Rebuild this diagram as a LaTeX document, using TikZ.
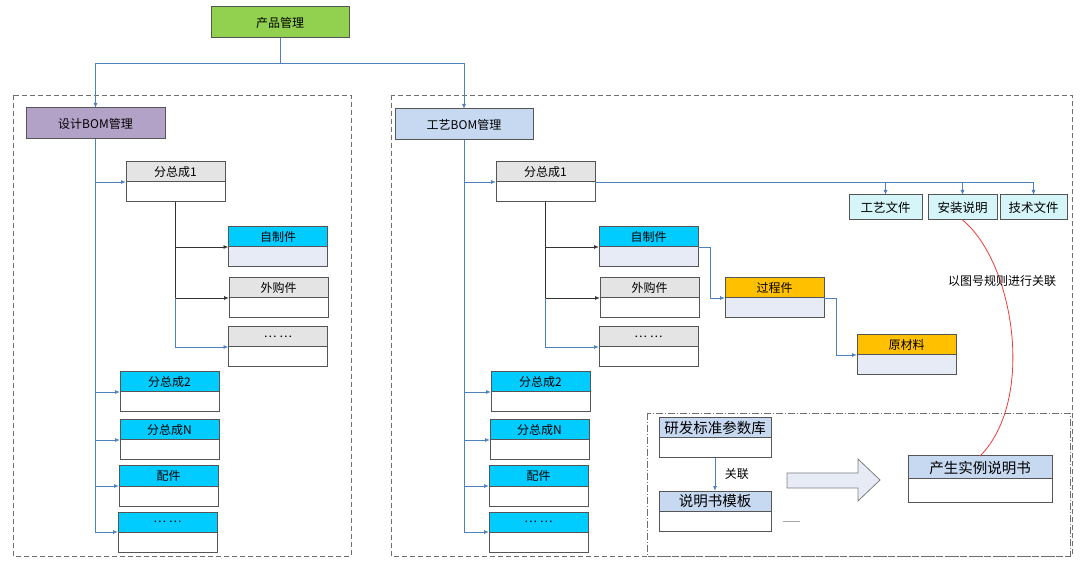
\documentclass[tikz,border=0pt]{standalone}
\usepackage{fontspec}
\setmainfont{Noto Sans CJK SC}
\usetikzlibrary{positioning,arrows.meta}
\definecolor{linkblue}{RGB}{79,129,189}
\definecolor{boxline}{RGB}{85,85,85}
\definecolor{prodgreen}{RGB}{146,208,80}
\definecolor{designpurple}{RGB}{179,162,199}
\definecolor{procblue}{RGB}{198,217,241}
\definecolor{partcyan}{RGB}{0,204,255}
\definecolor{partgray}{RGB}{228,228,228}
\definecolor{partorange}{RGB}{255,192,0}
\definecolor{bodylight}{RGB}{231,235,245}
\definecolor{doccyan}{RGB}{213,245,248}
\definecolor{framegray}{RGB}{110,110,110}
\definecolor{rulered}{RGB}{235,60,60}
\begin{document}
\begin{tikzpicture}[x=1pt,y=-1pt,
    font=\fontsize{12}{14}\selectfont,
    hdbox/.style={rectangle,draw=boxline,line width=1pt,outer sep=0pt,inner sep=0pt,
                  minimum width=99pt,minimum height=20pt},
    bdbox/.style={rectangle,draw=boxline,line width=1pt,outer sep=0pt,inner sep=0pt,
                  minimum width=99pt,minimum height=20pt,fill=white},
    mgrbox/.style={rectangle,draw=boxline,line width=1pt,outer sep=0pt,inner sep=0pt,
                   minimum height=31pt},
    docbox/.style={rectangle,draw=boxline,line width=1pt,outer sep=0pt,inner sep=0pt,
                   minimum height=25pt,fill=doccyan,font=\fontsize{12.5}{14}\selectfont},
    bigtext/.style={font=\fontsize{14.5}{16}\selectfont},
    blueline/.style={draw=linkblue,line width=0.9pt},
    darkline/.style={draw=black!80,line width=0.9pt},
    arrowtip/.style={-{Latex[length=5pt,width=4pt]}},
    groupframe/.style={draw=framegray,line width=0.9pt,dash pattern=on 5pt off 3pt}]

      \useasboundingbox (0,0) rectangle (1080,561);

      \draw[groupframe] (13,95) rectangle (351,556);
      \draw[groupframe] (391,95) rectangle (1072,556);
      \draw[groupframe,dash pattern=on 7pt off 2pt on 1pt off 2pt] (647,413) rectangle (1070,556);

      \node[mgrbox,fill=prodgreen,minimum width=138pt] (prod) at (280,22.5) {产品管理};
      \node[mgrbox,fill=designpurple,minimum width=139pt] (dbom) at (95.5,123.5) {设计BOM管理};
      \node[mgrbox,fill=procblue,minimum width=138pt] (pbom) at (464,124.5) {工艺BOM管理};

      \draw[blueline,arrowtip] (prod.south) -- ++(0,25) -| (dbom.north);
      \draw[blueline,arrowtip] (prod.south) -- ++(0,25) -| (pbom.north);

      \node[hdbox,fill=partgray] (dsub1) at (175.5,172) {分总成1};
      \node[bdbox] (dsub1b) [below=0pt of dsub1] {};
      \node[hdbox,fill=partcyan] (dself) at (278,237) {自制件};
      \node[bdbox,fill=bodylight] (dselfb) [below=0pt of dself] {};
      \node[hdbox,fill=partgray] (dbuy) at (278.5,288) {外购件};
      \node[bdbox] (dbuyb) [below=0pt of dbuy] {};
      \node[hdbox,fill=partgray] (dmore) at (278,337) {… …};
      \node[bdbox] (dmoreb) [below=0pt of dmore] {};
      \node[hdbox,fill=partcyan] (dsub2) at (169.5,382) {分总成2};
      \node[bdbox] (dsub2b) [below=0pt of dsub2] {};
      \node[hdbox,fill=partcyan] (dsubn) at (169.5,430) {分总成N};
      \node[bdbox] (dsubnb) [below=0pt of dsubn] {};
      \node[hdbox,fill=partcyan] (dpart) at (168.5,476) {配件};
      \node[bdbox] (dpartb) [below=0pt of dpart] {};
      \node[hdbox,fill=partcyan] (dend) at (167.5,522) {… …};
      \node[bdbox] (dendb) [below=0pt of dend] {};

      \draw[blueline,arrowtip] (dbom.south) |- (dsub1.south west);
      \draw[blueline,arrowtip] (dbom.south) |- (dsub2.south west);
      \draw[blueline,arrowtip] (dbom.south) |- (dsubn.south west);
      \draw[blueline,arrowtip] (dbom.south) |- (dpart.south west);
      \draw[blueline,arrowtip] (dbom.south) |- (dend.south west);
      \draw[darkline,arrowtip] (dsub1b.south) |- (dself.south west);
      \draw[darkline,arrowtip] (dsub1b.south) |- (dbuy.south west);
      \draw[blueline,arrowtip] (dbuy.south west -| dsub1b.south) |- (dmore.south west);

      \node[hdbox,fill=partgray] (psub1) at (545.5,172) {分总成1};
      \node[bdbox] (psub1b) [below=0pt of psub1] {};
      \node[hdbox,fill=partcyan] (pself) at (648.5,237) {自制件};
      \node[bdbox,fill=bodylight] (pselfb) [below=0pt of pself] {};
      \node[hdbox,fill=partgray] (pbuy) at (649.5,288) {外购件};
      \node[bdbox] (pbuyb) [below=0pt of pbuy] {};
      \node[hdbox,fill=partgray] (pmore) at (648.5,337) {… …};
      \node[bdbox] (pmoreb) [below=0pt of pmore] {};
      \node[hdbox,fill=partorange] (proc) at (774.5,288) {过程件};
      \node[bdbox,fill=bodylight] (procb) [below=0pt of proc] {};
      \node[hdbox,fill=partorange] (raw) at (906.5,345) {原材料};
      \node[bdbox,fill=bodylight] (rawb) [below=0pt of raw] {};
      \node[hdbox,fill=partcyan] (psub2) at (540.5,382) {分总成2};
      \node[bdbox] (psub2b) [below=0pt of psub2] {};
      \node[hdbox,fill=partcyan] (psubn) at (539.5,430) {分总成N};
      \node[bdbox] (psubnb) [below=0pt of psubn] {};
      \node[hdbox,fill=partcyan] (ppart) at (538.5,476) {配件};
      \node[bdbox] (ppartb) [below=0pt of ppart] {};
      \node[hdbox,fill=partcyan] (pend) at (538.5,522) {… …};
      \node[bdbox] (pendb) [below=0pt of pend] {};

      \node[docbox,minimum width=73pt] (craftdoc) at (885.5,207.5) {工艺文件};
      \node[docbox,minimum width=69pt] (setupdoc) at (962.5,207.5) {安装说明};
      \node[docbox,minimum width=67pt] (techdoc) at (1033.5,207.5) {技术文件};

      \draw[blueline,arrowtip] (pbom.south) |- (psub1.south west);
      \draw[blueline,arrowtip] (pbom.south) |- (psub2.south west);
      \draw[blueline,arrowtip] (pbom.south) |- (psubn.south west);
      \draw[blueline,arrowtip] (pbom.south) |- (ppart.south west);
      \draw[blueline,arrowtip] (pbom.south) |- (pend.south west);
      \draw[blueline,arrowtip] (psub1.south east) -| (craftdoc.north);
      \draw[blueline,arrowtip] (psub1.south east) -| (setupdoc.north);
      \draw[blueline,arrowtip] (psub1.south east) -| (techdoc.north);
      \draw[darkline,arrowtip] (psub1b.south) |- (pself.south west);
      \draw[darkline,arrowtip] (psub1b.south) |- (pbuy.south west);
      \draw[blueline,arrowtip] (pbuy.south west -| psub1b.south) |- (pmore.south west);
      \draw[blueline,arrowtip] (pself.south east) -- ++(12,0) |- (proc.south west);
      \draw[blueline,arrowtip] (proc.south east) -- ++(12,0) |- (raw.south west);

      \node[hdbox,fill=procblue,minimum width=112pt,bigtext] (lib) at (715,428) {研发标准参数库};
      \node[bdbox,minimum width=112pt] (libb) [below=0pt of lib] {};
      \node[hdbox,fill=procblue,minimum width=112pt,bigtext] (tpl) at (715,501) {说明书模板};
      \node[bdbox,minimum width=112pt] (tplb) [below=0pt of tpl] {};
      \node[hdbox,fill=procblue,minimum width=144pt,minimum height=23pt,bigtext] (inst) at (980,467.5) {产生实例说明书};
      \node[bdbox,minimum width=144pt,minimum height=23pt] (instb) [below=0pt of inst] {};

      \draw[blueline,arrowtip] (libb.south) -- node[right=6pt,text=black]{关联} (tpl.north);

      \draw[draw=gray,fill=bodylight,line width=0.8pt] (787,473) -- (858,473) -- (858,459)
           -- (880,480) -- (858,501) -- (858,488) -- (787,488) -- cycle;
      \draw[gray!70,line width=1pt] (783,521) -- (800,521);

      \draw[rulered,line width=0.8pt] (setupdoc.south) .. controls (1014,262) and (1036,400) .. (inst.north);
      \node (rule) at (1002,281) {以图号规则进行关联};
    \end{tikzpicture}
\end{document}
